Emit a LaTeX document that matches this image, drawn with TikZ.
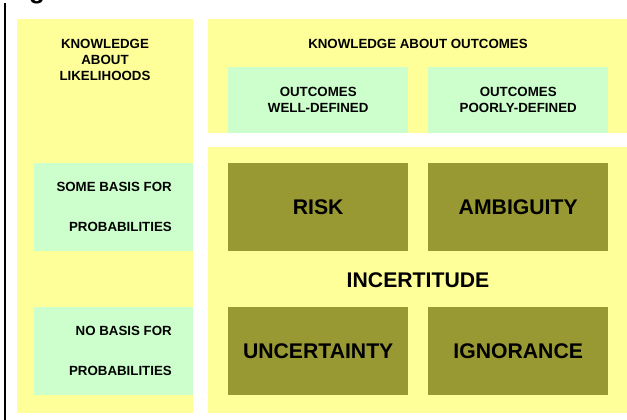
\documentclass[tikz,border=0pt]{standalone}
\usepackage{fontspec}
\setmainfont{Liberation Sans}
\usetikzlibrary{positioning}
\definecolor{pYellow}{HTML}{FFFF99}
\definecolor{pGreen}{HTML}{CCFFCC}
\definecolor{pOlive}{HTML}{999933}

\begin{document}
\begin{tikzpicture}[x=1pt,y=-1pt,font=\bfseries,
  panel/.style={rectangle,fill=pYellow,anchor=north west,inner sep=0pt},
  sub/.style={rectangle,fill=pGreen,anchor=north west,inner sep=0pt},
  cell/.style={rectangle,fill=pOlive,anchor=north west,inner sep=0pt,minimum width=180pt,minimum height=88pt},
  hd/.style={align=center,inner sep=0pt,font=\fontsize{13.3}{16}\selectfont\bfseries},
  big/.style={inner sep=0pt,font=\fontsize{21.2}{25}\selectfont\bfseries}]
  \useasboundingbox (0,0) rectangle (627,420);
  \node[anchor=base west,inner sep=0pt,font=\fontsize{26}{30}\selectfont\bfseries] (ttl) at (29,-1.5) {g};
  \draw[line width=2pt] (5,3) -- (5,420);
  % panels
  \node[panel,minimum width=176pt,minimum height=394pt] (lik) at (17,19) {};
  \node[panel,minimum width=420pt,minimum height=114pt] (out) at (208,19) {};
  \node[panel,minimum width=420pt,minimum height=266pt] (inc) at (208,147) {};
  \node[hd] (likt) at (105,60) {KNOWLEDGE\\ABOUT\\LIKELIHOODS};
  \node[hd] (outt) at (418,44) {KNOWLEDGE ABOUT OUTCOMES};
  % outcomes
  \node[sub,minimum width=180pt,minimum height=66pt] (wd) at (228,67) {};
  \node[sub,minimum width=180pt,minimum height=66pt] (pd) at (428,67) {};
  \node[hd] at (wd.center) {OUTCOMES\\WELL-DEFINED};
  \node[hd] at (pd.center) {OUTCOMES\\POORLY-DEFINED};
  % likelihoods
  \node[sub,minimum width=159pt,minimum height=88pt] (sb) at (34,163) {};
  \node[sub,minimum width=159pt,minimum height=88pt] (nb) at (34,307) {};
  \node[hd,align=right,anchor=east,font=\fontsize{13.3}{40}\selectfont\bfseries] at (172,207) {SOME BASIS FOR\\PROBABILITIES};
  \node[hd,align=right,anchor=east,font=\fontsize{13.3}{40}\selectfont\bfseries] at (172,351) {NO BASIS FOR\\PROBABILITIES};
  % the four cells
  \node[cell] (risk) at (228,163) {};
  \node[cell] (amb) at (428,163) {};
  \node[cell] (unc) at (228,307) {};
  \node[cell] (ign) at (428,307) {};
  \node[big] at (risk.center) {RISK};
  \node[big] at (amb.center) {AMBIGUITY};
  \node[big] at (unc.center) {UNCERTAINTY};
  \node[big] at (ign.center) {IGNORANCE};
  \node[big] (inct) at (418,280) {INCERTITUDE};
\end{tikzpicture}
\end{document}
